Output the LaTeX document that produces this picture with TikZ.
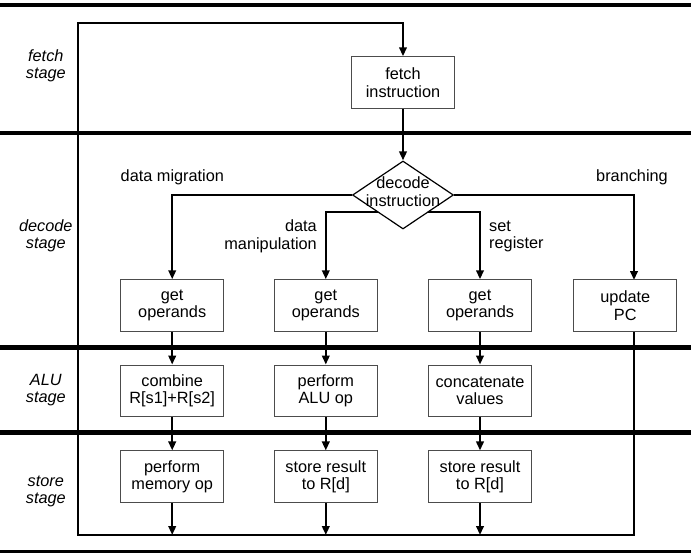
\documentclass[tikz,border=0pt]{standalone}
\usepackage{fontspec}
\setmainfont{Liberation Sans}
\usetikzlibrary{arrows.meta,shapes.geometric,backgrounds}
\begin{document}
\begin{tikzpicture}[x=1pt,y=-1pt,
  every node/.style={font=\fontsize{16.3}{17.5}\selectfont, align=center},
  stepbox/.style={draw=black!70, line width=1pt, fill=white,
    minimum width=103pt, minimum height=51.5pt, inner sep=0pt},
  decbox/.style={diamond, draw=black, line width=1.2pt, fill=white,
    minimum width=101pt, minimum height=68pt, inner sep=0pt},
  stagelabel/.style={font=\fontsize{16.3}{17.5}\selectfont\itshape},
  branchlabel/.style={inner sep=0pt},
  separator/.style={line width=4.3pt},
  flow/.style={line width=2.2pt},
  flowarrow/.style={flow, -{Triangle[length=9pt,width=7.5pt]}}
]
\useasboundingbox (0,0) rectangle (691,552);

% stage separators
\draw[separator] (0,4.7) -- (691,4.7);
\draw[separator] (0,133.3) -- (691,133.3);
\draw[separator] (0,347.5) -- (691,347.5);
\draw[separator] (0,432.5) -- (691,432.5);
\draw[separator] (0,552) -- (691,552);

% stage names
\node[stagelabel] (lfetch) at (45.8,66) {fetch\\stage};
\node[stagelabel] (ldecode) at (45.8,236) {decode\\stage};
\node[stagelabel] (lalu) at (45.8,390) {ALU\\stage};
\node[stagelabel] (lstore) at (45.8,491.5) {store\\stage};

% fetch and decode
\node[stepbox] (fetch) at (403,82.5) {fetch\\instruction};
\node[decbox] (dec) at (403,195) {};
\node (dectext) at (403,191.5) {decode\\instruction};

% operand fetch row
\node[stepbox] (b1) at (172.2,305.5) {get\\operands};
\node[stepbox] (b2) at (325.8,305.5) {get\\operands};
\node[stepbox] (b3) at (480,305.5) {get\\operands};
\node[stepbox] (pc) at (625.3,305.5) {update\\PC};

% ALU row
\node[stepbox] (a1) at (172.2,390.8) {combine\\R[s1]+R[s2]};
\node[stepbox] (a2) at (325.8,390.8) {perform\\ALU op};
\node[stepbox] (a3) at (480,390.8) {concatenate\\values};

% store row
\node[stepbox] (s1) at (172.2,476.7) {perform\\memory op};
\node[stepbox] (s2) at (325.8,476.7) {store result\\to R[d]};
\node[stepbox] (s3) at (480,476.7) {store result\\to R[d]};

% branch labels
\node[branchlabel, anchor=west] (tmig) at (120.5,177) {data migration};
\node[branchlabel, anchor=west] (tbr) at (596,177) {branching};
\node[branchlabel, anchor=east, align=right] (tman) at (317,236.5) {data\\manipulation};
\node[branchlabel, anchor=west, align=left] (tset) at (489,236.5) {set\\register};

% loop frame corners
\coordinate (loopbl) at (78,535);
\coordinate (looptl) at (78,23.3);
\coordinate (loopbr) at (634,535);
\coordinate (pcin) at (634,280);
\coordinate (pcout) at (634,331);
\coordinate (split) at (403,212);

\begin{scope}[on background layer]
  \draw[flowarrow] (pcout) -- (loopbr) -- (loopbl) -- (looptl) -| (fetch.north);
  \draw[flowarrow] (fetch.south) -- (dec.north);
  \draw[flowarrow] (dec.west) -| (b1.north);
  \draw[flowarrow] (split) -| (b2.north);
  \draw[flowarrow] (split) -| (b3.north);
  \draw[flowarrow] (dec.east) -| (pcin);

  \draw[flowarrow] (b1.south) -- (a1.north);
  \draw[flowarrow] (b2.south) -- (a2.north);
  \draw[flowarrow] (b3.south) -- (a3.north);
  \draw[flowarrow] (a1.south) -- (s1.north);
  \draw[flowarrow] (a2.south) -- (s2.north);
  \draw[flowarrow] (a3.south) -- (s3.north);
  \draw[flowarrow] (s1.south) -- (s1.south |- loopbl);
  \draw[flowarrow] (s2.south) -- (s2.south |- loopbl);
  \draw[flowarrow] (s3.south) -- (s3.south |- loopbl);
\end{scope}
\end{tikzpicture}
\end{document}
